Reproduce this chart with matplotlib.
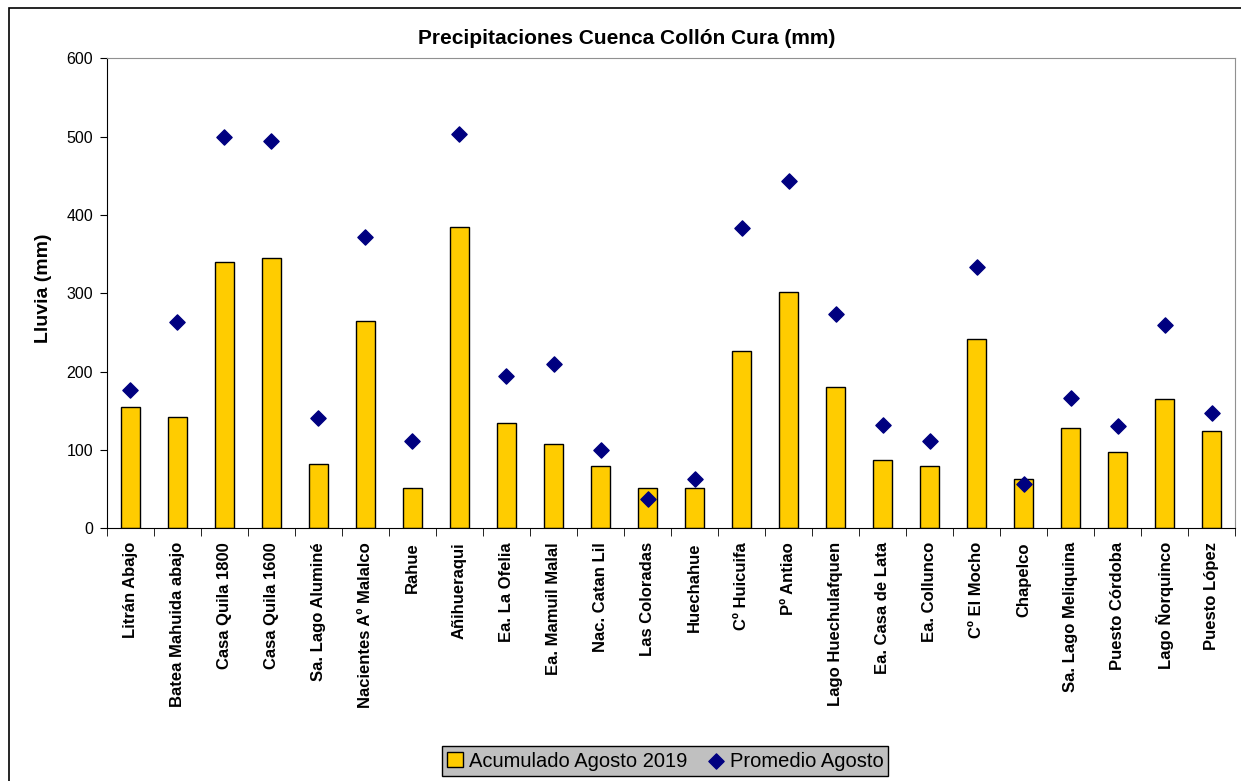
import numpy as np
import matplotlib.pyplot as plt
from matplotlib.patches import Rectangle

plt.rcParams['font.family'] = ['Liberation Sans', 'DejaVu Sans']

# Estaciones y valores (mm)
estaciones = ['Litrán Abajo', 'Batea Mahuida abajo', 'Casa Quila 1800', 'Casa Quila 1600',
              'Sa. Lago Aluminé', 'Nacientes Aº Malalco', 'Rahue', 'Añihueraqui',
              'Ea. La Ofelia', 'Ea. Mamuil Malal', 'Nac. Catan Lil', 'Las Coloradas',
              'Huechahue', 'Cº Huicuifa', 'Pº Antiao', 'Lago Huechulafquen',
              'Ea. Casa de Lata', 'Ea. Collunco', 'Cº El Mocho', 'Chapelco',
              'Sa. Lago Meliquina', 'Puesto Córdoba', 'Lago Ñorquinco', 'Puesto López']
acumulado_2019 = [155, 142, 340, 345, 82, 264, 51, 384, 134, 107, 80, 51,
                  51, 226, 301, 180, 87, 79, 242, 63, 128, 98, 165, 124]
promedio_agosto = [176, 263, 500, 495, 141, 372, 111, 503, 194, 210, 100, 38,
                   63, 383, 443, 273, 132, 111, 334, 57, 166, 131, 259, 147]

fig = plt.figure(figsize=(12.41, 7.81), dpi=100)
ax = fig.add_axes([0.0862, 0.3236, 0.909, 0.6018])

x = np.arange(len(estaciones))
barras = ax.bar(x, acumulado_2019, width=0.42, color='#FFCC00', edgecolor='black',
                linewidth=1, label='Acumulado Agosto 2019', zorder=2)
puntos = ax.scatter(x, promedio_agosto, marker='D', s=60, color='#000080',
                    label='Promedio Agosto', zorder=3)

ax.set_xlim(-0.5, len(estaciones) - 0.5)
ax.set_ylim(0, 600)
ax.set_yticks(range(0, 601, 100))
ax.tick_params(axis='y', labelsize=11.5, length=5, direction='out', pad=5)

# marcas entre categorias
ax.set_xticks(x)
ax.set_xticklabels(estaciones, rotation=90, fontsize=12, fontweight='bold')
ax.tick_params(axis='x', which='major', length=0, pad=10)
ax.set_xticks(np.arange(-0.5, len(estaciones), 1), minor=True)
ax.tick_params(axis='x', which='minor', length=6, direction='out')

for s in ['top', 'right']:
    ax.spines[s].set_color('#909090')
for s in ['left', 'bottom']:
    ax.spines[s].set_color('black')

ax.set_ylabel('Lluvia (mm)', fontsize=14, fontweight='bold')
ax.yaxis.set_label_coords(-0.049, 0.51)
fig.text(0.505, 0.951, 'Precipitaciones Cuenca Collón Cura (mm)', ha='center', va='center',
         fontsize=15, fontweight='bold')

leg = fig.legend([barras, puntos], ['Acumulado Agosto 2019', 'Promedio Agosto'],
                 loc='center', bbox_to_anchor=(0.536, 0.0256), ncol=2, frameon=True,
                 fontsize=14.5, fancybox=False, facecolor='#C0C0C0', edgecolor='black',
                 framealpha=1, handlelength=0.8, handletextpad=0.3, columnspacing=1.0,
                 borderpad=0.25, borderaxespad=0)
leg.get_frame().set_linewidth(1)

# borde del grafico
fig.patches.append(Rectangle((0.007, -0.05), 1.1, 0.045 + 1 - 4 / 781, transform=fig.transFigure,
                             fill=False, edgecolor='black', linewidth=1.2))

fig.savefig('out.png', dpi=100)
